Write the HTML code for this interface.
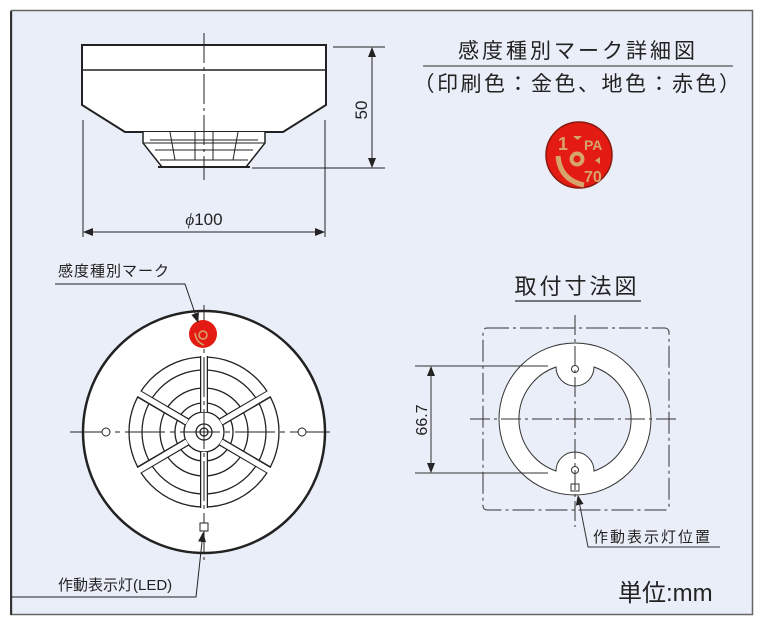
<!DOCTYPE html>
<html><head><meta charset="utf-8"><style>
html,body{margin:0;padding:0;background:#fff;}
svg{display:block;}
text{font-family:"Liberation Sans","Noto Sans CJK JP",sans-serif;fill:#222;}
</style></head><body>
<svg width="761" height="624" viewBox="0 0 761 624" xmlns="http://www.w3.org/2000/svg">
<defs>
<marker id="a" markerWidth="10" markerHeight="8" refX="9" refY="4" orient="auto" markerUnits="userSpaceOnUse"><path d="M0,0 L10,4 L0,8 z" fill="#222"/></marker>
</defs>
<rect x="11.5" y="10.5" width="741" height="604" fill="#e9eef8" stroke="#666" stroke-width="1.5"/>
<line x1="11" y1="11" x2="11" y2="615" stroke="#333" stroke-width="2"/>

<!-- side view -->
<g stroke="#222" fill="#fff" stroke-width="1.5">
<path d="M82,45 H326 V105 L283,132 H125 L82,105 Z" stroke-width="2"/>
<line x1="82" y1="70" x2="326" y2="70"/>
<path d="M143,132 L143,143 L162,167 H246 L265,143 L265,132" fill="#fff"/>
<line x1="143" y1="143" x2="265" y2="143" stroke-width="1"/>
<line x1="150" y1="140" x2="258" y2="140" stroke-width="1"/>
<line x1="155" y1="150" x2="253" y2="150" stroke-width="1"/>
<line x1="160" y1="160" x2="248" y2="160" stroke-width="1"/>
<line x1="170" y1="132" x2="175" y2="160" stroke-width="1"/>
<line x1="238" y1="132" x2="233" y2="160" stroke-width="1"/>
<line x1="195" y1="132" x2="195" y2="160" stroke-width="1"/>
<line x1="213" y1="132" x2="213" y2="160" stroke-width="1"/>
<line x1="158" y1="167" x2="250" y2="167" stroke-width="2"/>
</g>
<line x1="204" y1="33" x2="204" y2="180" stroke="#222" stroke-width="1" stroke-dasharray="30,4,3,4"/>
<g stroke="#222" stroke-width="1" fill="none">
<line x1="333" y1="47" x2="385" y2="47"/>
<line x1="252" y1="168" x2="385" y2="168"/>
<line x1="372" y1="60" x2="372" y2="48" marker-end="url(#a)"/>
<line x1="372" y1="150" x2="372" y2="167" marker-end="url(#a)"/>
<line x1="372" y1="55" x2="372" y2="160"/>
<line x1="83" y1="120" x2="83" y2="237"/>
<line x1="325" y1="120" x2="325" y2="237"/>
<line x1="100" y1="232" x2="84" y2="232" marker-end="url(#a)"/>
<line x1="300" y1="232" x2="324" y2="232" marker-end="url(#a)"/>
<line x1="90" y1="232" x2="310" y2="232"/>
</g>
<text x="367" y="110" font-size="17" transform="rotate(-90 367 110)" text-anchor="middle">50</text>
<text x="204" y="225" font-size="17" text-anchor="middle"><tspan font-style="italic" font-family="Liberation Serif">ϕ</tspan>100</text>

<!-- top view -->
<circle cx="204" cy="432" r="121" fill="#fff" stroke="#222" stroke-width="2.5"/>
<g fill="none" stroke="#222" stroke-width="1.3">
<circle cx="204" cy="432" r="75"/>
<circle cx="204" cy="432" r="62"/>
<circle cx="204" cy="432" r="44"/>
<circle cx="204" cy="432" r="29"/>
<circle cx="204" cy="432" r="20"/>
<circle cx="204" cy="432" r="8"/>
<circle cx="204" cy="432" r="4"/>
</g>
<g stroke-linecap="butt">
<g stroke="#222" stroke-width="8">
<line x1="204" y1="412" x2="204" y2="356"/>
<line x1="204" y1="452" x2="204" y2="508"/>
<line x1="187" y1="422" x2="139" y2="394"/>
<line x1="221" y1="422" x2="269" y2="394"/>
<line x1="187" y1="442" x2="139" y2="470"/>
<line x1="221" y1="442" x2="269" y2="470"/>
</g>
<g stroke="#fff" stroke-width="5.5">
<line x1="204" y1="412" x2="204" y2="355"/>
<line x1="204" y1="452" x2="204" y2="509"/>
<line x1="187" y1="422" x2="138" y2="393"/>
<line x1="221" y1="422" x2="270" y2="393"/>
<line x1="187" y1="442" x2="138" y2="471"/>
<line x1="221" y1="442" x2="270" y2="471"/>
</g>
</g>
<line x1="204" y1="305" x2="204" y2="560" stroke="#222" stroke-width="1" stroke-dasharray="40,4,4,4"/>
<line x1="70" y1="432" x2="335" y2="432" stroke="#222" stroke-width="1" stroke-dasharray="40,5,5,5"/>
<circle cx="106" cy="432" r="4" fill="#fff" stroke="#222"/>
<circle cx="302" cy="432" r="4" fill="#fff" stroke="#222"/>
<rect x="200" y="523" width="8" height="8" fill="#fff" stroke="#222"/>
<circle cx="203" cy="334" r="14" fill="#e31b12"/>
<circle cx="203" cy="335" r="4" fill="none" stroke="#d9a36a" stroke-width="1.5"/>
<path d="M195,333 Q196,342 204,345" fill="none" stroke="#d9a36a" stroke-width="1.5"/>
<!-- labels -->
<text x="58" y="276" font-size="15" letter-spacing="1">感度種別マーク</text>
<polyline points="55,284 185,284 198,322" fill="none" stroke="#222" stroke-width="1" marker-end="url(#a)"/>
<text x="58" y="590" font-size="15">作動表示灯(LED)</text>
<polyline points="12,597 196,597 203,533" fill="none" stroke="#222" stroke-width="1" marker-end="url(#a)"/>

<!-- detail badge -->
<text x="578" y="58" font-size="21" letter-spacing="3" text-anchor="middle">感度種別マーク詳細図</text>
<line x1="423" y1="66" x2="733" y2="66" stroke="#555" stroke-width="1.2"/>
<text x="578" y="91" font-size="21" letter-spacing="2.5" text-anchor="middle">（印刷色：金色、地色：赤色）</text>
<circle cx="579" cy="155" r="33" fill="#e31b12" stroke="#8a1a10" stroke-width="1.5"/>
<g fill="#d6a56b">
<text x="558" y="150" font-size="18" font-weight="bold" style="fill:#d6a56b">1</text>
<text x="584" y="150" font-size="14" font-weight="bold" style="fill:#d6a56b">PA</text>
<text x="584" y="182" font-size="16" font-weight="bold" style="fill:#d6a56b">70</text>
<path d="M573,136 h9 l-4.5,4 z"/>
<path d="M600,157 l-5,3.5 l5,3.5 z"/>
</g>
<circle cx="577" cy="159" r="5.5" fill="none" stroke="#d6a56b" stroke-width="4"/>
<path d="M558,156 Q560,180 584,185" fill="none" stroke="#d6a56b" stroke-width="5"/>

<!-- mounting -->
<text x="577" y="294" font-size="22" letter-spacing="3" text-anchor="middle">取付寸法図</text>
<line x1="515" y1="301" x2="641" y2="301" stroke="#333" stroke-width="1.2"/>
<rect x="483" y="328" width="186" height="182" rx="4" fill="none" stroke="#333" stroke-width="1" stroke-dasharray="22,4,3,4"/>
<path fill-rule="evenodd" fill="#fff" stroke="#333" stroke-width="1" d="M651,419 A76,76 0 1,1 499,419 A76,76 0 1,1 651,419 Z M556,367 A55,55 0 0,0 556,471 A12,12 0 0,1 594,471 A55,55 0 0,0 594,367 A12,12 0 0,1 556,367 Z"/>
<circle cx="575" cy="369" r="3.5" fill="#fff" stroke="#333"/>
<circle cx="575" cy="470" r="3.5" fill="#fff" stroke="#333"/>
<rect x="571" y="484" width="8" height="7" fill="#fff" stroke="#333"/>
<line x1="575" y1="315" x2="575" y2="527" stroke="#333" stroke-width="1" stroke-dasharray="20,4,3,4"/>
<line x1="470" y1="419" x2="680" y2="419" stroke="#333" stroke-width="1" stroke-dasharray="20,4,3,4"/>
<g stroke="#333" stroke-width="1" fill="none">
<line x1="415" y1="366" x2="548" y2="366"/>
<line x1="415" y1="473" x2="548" y2="473"/>
<line x1="431" y1="380" x2="431" y2="367" marker-end="url(#a)"/>
<line x1="431" y1="460" x2="431" y2="472" marker-end="url(#a)"/>
<line x1="431" y1="372" x2="431" y2="468"/>
<polyline points="720,547 588,547 578,496" marker-end="url(#a)"/>
</g>
<text x="427" y="420" font-size="16" transform="rotate(-90 427 420)" text-anchor="middle">66.7</text>
<text x="593" y="542" font-size="15" letter-spacing="2">作動表示灯位置</text>
<text x="618" y="601" font-size="24">単位:mm</text>
</svg>
</body></html>
